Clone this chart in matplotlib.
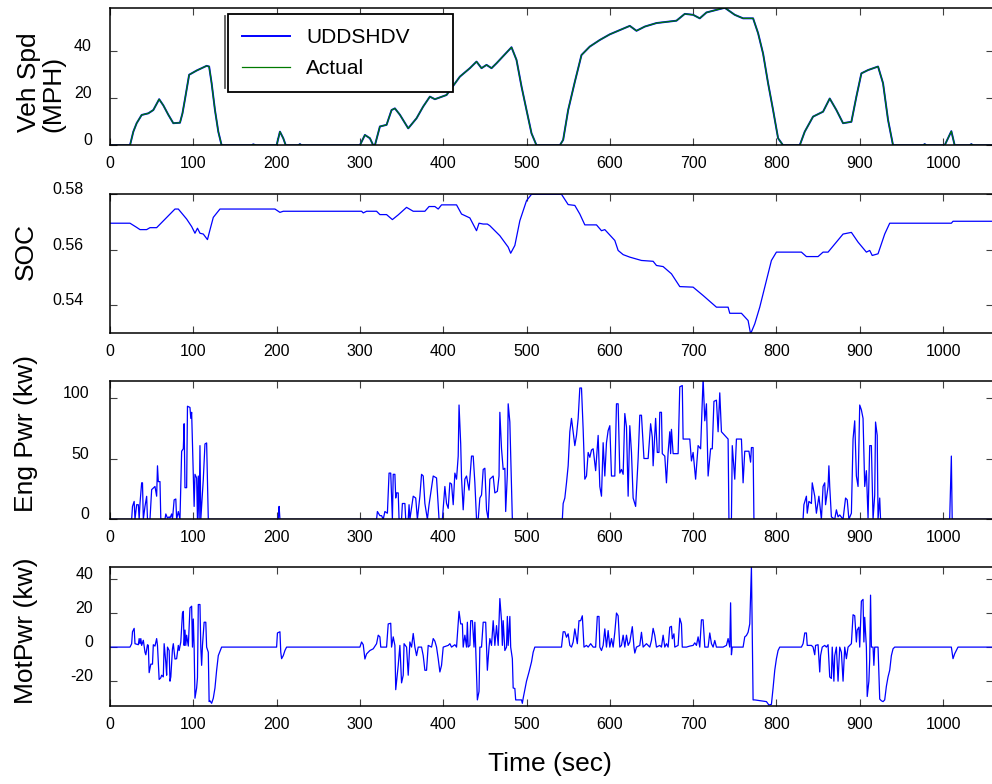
import matplotlib
matplotlib.use("Agg")
import matplotlib.pyplot as plt
from matplotlib.lines import Line2D

plt.rcParams['font.family'] = ['Liberation Sans', 'DejaVu Sans']
plt.rcParams['axes.unicode_minus'] = False

# ---- data (time in sec, value) ----
spd_pts = [(0, 0), (24, 0), (28, 5.8), (32, 9.4), (38, 12.9), (46, 13.6), (52, 15), (59, 19.6),
           (64, 17), (70, 13), (76, 9.4), (84, 9.6), (87, 13.6), (90, 19.6), (95, 30), (104, 31.8),
           (110, 32.8), (116, 33.8), (119, 33.5), (122, 26.4), (126, 15), (130, 5.8), (134, 0),
           (170, 0), (172, 0.4), (175, 0), (200, 0), (204, 5.8), (208, 3), (211, 0), (226, 0),
           (228, 0.5), (230, 0), (300, 0), (306, 4.4), (312, 3), (316, 0), (318, 0), (324, 8),
           (332, 8.7), (338, 15), (342, 15.7), (348, 13), (358, 7.2), (368, 11.5), (376, 16.5),
           (384, 20.7), (390, 19.6), (404, 21.4), (420, 29.2), (432, 32.8), (440, 35.6),
           (446, 32.8), (452, 34.2), (458, 32.8), (464, 34.9), (482, 41.7), (488, 36.3), (494, 25),
           (500, 15), (506, 5.1), (512, 0), (540, 0), (544, 2.3), (550, 15), (558, 27), (566, 38.4),
           (576, 42), (588, 44.8), (600, 47.2), (612, 49), (624, 50.8), (632, 48.7), (642, 50.5),
           (656, 52), (680, 53), (690, 55.9), (700, 55.5), (708, 54), (716, 56.5), (728, 57.6),
           (738, 58.5), (750, 55.5), (760, 54), (772, 54), (778, 47.7), (784, 39), (790, 26.4),
           (796, 15), (802, 3), (808, 0), (828, 0), (834, 5.8), (844, 12.2), (856, 14.3),
           (864, 19.9), (872, 15), (880, 9.4), (890, 10), (896, 20.7), (902, 30.6), (910, 32),
           (922, 33.5), (928, 26.4), (934, 10.8), (940, 0), (976, 0), (978, 0.5), (980, 0),
           (1002, 0), (1010, 6), (1014, 0), (1032, 0), (1034, 0.5), (1036, 0), (1060, 0)]

soc_pts = [(0, 0.5696), (24, 0.5696), (32, 0.5681), (36, 0.5673), (44, 0.5673), (48, 0.568),
           (56, 0.568), (78, 0.5747), (82, 0.5747), (92, 0.5711), (98, 0.5684), (102, 0.566),
           (105, 0.5678), (108, 0.566), (112, 0.5657), (117, 0.5637), (120, 0.5672), (124, 0.5717),
           (132, 0.5747), (198, 0.5747), (204, 0.5735), (208, 0.5739), (302, 0.5739), (304, 0.5733),
           (308, 0.5739), (320, 0.5739), (324, 0.5727), (332, 0.5727), (339, 0.5709), (346, 0.5726),
           (356, 0.5753), (364, 0.5739), (378, 0.5739), (383, 0.5756), (390, 0.5756), (394, 0.5747),
           (398, 0.5762), (416, 0.5762), (422, 0.5729), (432, 0.5715), (440, 0.5669), (443, 0.5696),
           (448, 0.5693), (453, 0.5693), (456, 0.5687), (468, 0.5651), (478, 0.561), (481, 0.5588),
           (486, 0.5616), (492, 0.5705), (500, 0.5777), (506, 0.580), (542, 0.580), (550, 0.5763),
           (558, 0.576), (564, 0.5729), (570, 0.569), (584, 0.569), (590, 0.5669), (594, 0.5673),
           (606, 0.5634), (610, 0.5598), (616, 0.5583), (624, 0.5574), (638, 0.5562), (652, 0.5559),
           (656, 0.5544), (664, 0.554), (674, 0.5514), (684, 0.5468), (700, 0.5466), (712, 0.5436),
           (728, 0.5394), (742, 0.5394), (744, 0.5372), (758, 0.5372), (766, 0.5346), (769, 0.5298),
           (774, 0.5334), (780, 0.5394), (788, 0.549), (794, 0.5562), (800, 0.5592), (830, 0.5592),
           (836, 0.5576), (850, 0.5576), (856, 0.5592), (862, 0.5592), (880, 0.5657), (890, 0.5663),
           (898, 0.5628), (908, 0.5592), (912, 0.5598), (915, 0.558), (922, 0.5586), (930, 0.5657),
           (936, 0.5696), (1010, 0.5696), (1012, 0.5703), (1060, 0.5703)]

eng_pts = [(0, 0), (26, 0), (27, 10.6), (29, 14.7), (30, 0), (32, 12), (34, 12), (35, 0), (36, 13),
           (38, 30), (39, 30), (40, 0), (42, 10.6), (44, 18.9), (45, 0), (48, 0), (50, 24.4),
           (54, 27), (56, 19), (57, 44), (58, 31), (60, 31), (61, 0), (66, 0), (67, 4.4), (69, 1),
           (71, 2), (72, 1), (74, 4.4), (75, 0), (77, 16), (79, 16.7), (80, 0), (82, 6.4), (84, 0),
           (86, 56), (88, 58), (89, 78.6), (90, 26), (92, 26), (93, 93), (96, 92), (97, 83), (98, 88),
           (100, 35.6), (101, 10.6), (102, 37), (104, 34), (105, 0), (106, 35.6), (107, 0),
           (108, 60.6), (109, 0), (112, 32.8), (114, 62), (116, 62.8), (118, 0), (202, 0),
           (202.5, 6.4), (203, 10.6), (204, 0), (320, 0), (321, 6.4), (324, 3), (326, 3), (328, 0),
           (330, 6.4), (333, 5), (335, 38), (337, 38), (339, 0), (340, 37), (342, 37), (343, 17.5),
           (344, 21.7), (346, 21.7), (347, 0), (350, 0), (351, 13), (354, 13), (355, 0), (358, 0),
           (359, 12), (360, 0), (364, 19), (367, 17.5), (369, 0), (372, 19), (374, 37), (376, 35.6),
           (378, 13), (381, 0), (383, 12), (388, 35.6), (392, 34), (395, 0), (399, 0), (402, 27),
           (404, 13), (406, 9), (408, 30), (410, 29), (412, 12), (414, 38), (416, 33), (418, 52),
           (419, 94), (421, 62), (422, 34), (424, 7.8), (426, 33), (428, 35.6), (431, 24), (434, 52),
           (436, 52), (438, 30), (440, 0), (442, 0), (444, 17.5), (446, 20), (448, 41), (450, 42),
           (452, 7.8), (454, 0), (456, 33), (460, 35.6), (462, 21.7), (465, 23), (467, 35.6),
           (468, 88), (470, 58), (472, 41), (474, 42), (475, 6.4), (477, 37), (478, 95), (480, 80),
           (483, 0), (543, 0), (544, 13), (546, 17.5), (548, 30), (550, 44), (552, 72), (554, 83),
           (556, 72), (558, 60.6), (560, 69), (562, 83), (564, 108), (566, 108), (568, 74), (570, 33),
           (572, 35.6), (574, 55), (576, 51), (578, 57), (580, 58), (583, 40), (586, 69), (588, 27),
           (590, 19), (592, 63), (594, 35.6), (596, 63), (598, 73), (600, 77), (602, 35.6),
           (606, 35.6), (608, 95), (610, 95), (612, 38), (614, 41), (616, 37), (618, 87), (620, 76),
           (622, 19), (624, 77), (626, 55), (628, 17.5), (631, 10.6), (634, 50), (636, 85.6),
           (638, 85.6), (641, 50), (646, 50), (649, 78.6), (651, 67.5), (652, 44), (655, 83),
           (657, 55), (659, 55), (660, 88), (662, 88), (663, 54), (666, 52), (668, 30), (670, 55),
           (672, 72), (673, 54), (674, 74), (676, 54), (682, 54), (684, 109), (687, 110), (688, 66),
           (696, 66), (698, 48), (700, 55), (703, 33), (706, 60.6), (709, 58), (712, 116), (714, 81),
           (716, 95), (718, 35.6), (721, 58), (723, 58), (725, 97), (728, 98), (730, 72), (732, 104),
           (734, 72), (738, 69), (742, 66), (743, 0), (746, 0), (747, 60.6), (750, 33), (752, 66),
           (758, 66), (760, 30), (762, 56), (767, 56), (769, 47), (770, 59), (772, 59), (773, 0),
           (832, 0), (833, 12), (836, 19), (837, 5), (839, 14.7), (842, 13), (843, 30), (846, 19),
           (848, 5), (851, 19), (854, 0), (856, 27), (858, 30), (859, 12), (862, 27), (863, 44),
           (864, 27), (866, 2), (870, 0), (872, 7.8), (874, 2), (876, 3.6), (880, 0), (883, 17.5),
           (885, 16), (887, 0), (890, 5), (892, 66), (894, 81), (896, 35.6), (898, 27), (900, 94),
           (902, 90), (904, 83), (906, 27), (908, 40), (910, 1), (912, 60.6), (914, 60.6), (916, 0),
           (918, 20), (919, 80), (921, 69), (922, 0), (924, 17.5), (925, 0), (1008, 0), (1010, 52),
           (1011, 0), (1060, 0)]

mot_pts = [(0, 0), (24, 0), (26, 2), (27, 9), (29, 11), (30, 2), (34, 1.4), (35, 5), (36, 2), (37, 5),
           (38, 1), (40, 4), (42, -3), (43, -4.5), (45, 1.4), (46, 1), (47, -15), (49, -10), (51, -10),
           (52, 1.4), (54, 0.6), (56, 5), (57, 1), (59, -19), (61, -18), (62, -16.5), (64, -17.5),
           (65, 2), (67, -9), (68, -16.5), (69, 0), (71, -2), (72, -20), (73, -17.5), (75, -1), (76, 2),
           (78, -7), (80, -6.8), (82, 1), (83, -2), (85, 3), (87, 20), (88, 21), (89, 1), (90, 10),
           (91, 1), (92, 7), (94, 0.6), (96, 23), (98, 24), (99, 0), (100, 16.5), (101, 0), (102, -30),
           (104, -24), (105, -18), (106, 25), (108, 25), (109, 0), (110, -10.7), (111, 1), (113, 14.6),
           (115, 14.6), (116, 0), (118, -3), (119, -32), (120, -31.5), (122, -33), (124, -30),
           (126, -24), (128, -13.6), (130, -5), (134, 0), (200, 0), (201, 8.3), (204, 9), (205, -3),
           (206, -6.8), (208, -5), (210, -2), (212, 0), (300, 0), (302, 3), (304, 1.4), (306, -7),
           (308, -4), (312, -2), (316, -1), (320, 2), (322, 7), (324, 6), (325, 0), (332, 0),
           (334, 13.6), (337, 14), (338, 0), (340, 6), (342, 1), (343, -25), (346, -10.7), (348, 1),
           (350, -21), (352, -16.5), (353, 2), (356, 0), (358, -16.5), (360, 3), (362, 0), (364, 8),
           (366, 0), (368, -5), (370, 0), (374, 0), (376, -5), (378, -13.6), (380, -13.6), (382, 1),
           (386, 0), (388, 5), (390, 3.5), (392, 0), (394, -6.8), (396, -14.6), (398, -10.7), (400, 0),
           (406, 1), (408, 2), (410, 0), (414, 1.4), (416, 0), (419, 21), (421, 13.6), (423, 13.6),
           (424, 0), (426, 7), (428, 0), (429, 14.6), (430, 0), (432, 1), (433, 15.5), (435, 15.5),
           (437, 0), (438, 14.6), (439, 0), (441, -31), (443, -26), (444, 0), (446, 0), (448, 14.6),
           (451, 14.6), (453, -13.6), (455, 0), (456, 5), (458, 1), (460, 15.5), (462, 1), (464, 12.6),
           (466, 1), (468, 28.5), (470, 15.5), (471, 1), (472, 15.5), (474, -2), (476, 0), (477, 18),
           (478, 1), (480, 18), (481, 0), (483, -6.8), (484, -24), (486, -24.3), (487, -31), (494, -31),
           (495, -33), (496, -30), (498, -25), (500, -20), (503, -14.6), (506, -8.7), (508, -3),
           (510, 0), (542, 0), (544, 9), (546, 9), (548, 5.8), (550, 7.8), (552, 1), (554, 0), (556, 3),
           (558, 10.7), (561, 2), (563, 15.5), (565, 15.5), (567, 18.4), (569, 0), (572, 1), (574, 0),
           (577, 2), (580, 0), (583, 0), (585, 18), (587, 18), (588, 0), (590, -2), (592, 1),
           (594, 10.7), (596, 0), (598, 9.7), (600, 0), (602, 5), (604, 0), (606, 8.7), (608, 20),
           (610, 18.4), (612, 0), (614, 1), (616, 7), (618, 0), (620, 7), (622, 1), (624, 3), (627, 12),
           (629, 0), (630, -3.5), (632, 0), (636, 1), (638, 8.7), (640, 0), (642, 1), (644, 2), (648, 0),
           (650, 3.9), (652, 11), (654, 6.8), (656, 0), (660, 1), (662, 0), (664, 7), (666, 0), (668, 2),
           (670, 0), (672, 11.7), (674, 12.2), (675, 4.9), (677, 7.8), (678, 0), (682, 1), (684, 17),
           (686, 13.6), (687, 0), (692, 0), (696, 0.6), (700, 1), (702, 2.5), (704, 1), (706, 6),
           (708, 0), (710, 16), (712, 16), (714, 0), (718, 0), (720, 8.3), (722, 2), (724, 0), (726, 3.9),
           (728, 0), (736, 0), (740, 1), (742, 5), (744, 0), (745, 26), (746, -4.5), (747, 0), (760, 0),
           (762, 6), (764, 6.8), (766, 8.7), (768, 13.6), (770, 47), (772, -31), (774, -31), (788, -32),
           (791, -34), (794, -33.6), (796, -24), (798, -13.6), (800, -6.8), (802, -2), (804, 0),
           (830, 0), (832, 2), (834, 8.3), (836, 8.3), (837, 1), (842, 1), (844, 0), (846, -4.5),
           (847, 1), (850, 1.4), (852, -14.6), (853, -5), (855, 0), (858, 1), (860, 0), (862, 1.4),
           (864, -17.5), (866, -18.4), (867, 0), (869, -20), (870, -5), (872, 0), (874, -20), (876, 0),
           (878, -3), (880, -20), (882, 0), (884, -6.8), (886, 0), (888, 1), (890, 2), (892, 19),
           (894, 18.4), (896, 3), (897, 10), (899, 11.7), (900, 0), (902, 27), (904, 28), (905, 3),
           (906, 17.5), (908, 0), (909, -29), (911, -20), (912, -7), (913, 30.5), (914, 0), (916, 0),
           (917, -10.7), (918, 0), (922, 0), (924, -30.5), (926, -31.5), (928, -32), (930, -31),
           (932, -23), (934, -17.5), (936, -13.6), (938, -5), (940, -1), (942, 0), (1010, 0),
           (1012, -6.8), (1014, -3.9), (1016, -2), (1018, 0), (1060, 0)]

x_ticks = [0, 100, 200, 300, 400, 500, 600, 700, 800, 900, 1000]
spd_ticks = [0, 20, 40]
soc_ticks = [0.54, 0.56, 0.58]
eng_ticks = [0, 50, 100]
mot_ticks = [-20, 0, 20, 40]

spd_t, spd_v = zip(*spd_pts)
soc_t, soc_v = zip(*soc_pts)
eng_t, eng_v = zip(*eng_pts)
mot_t, mot_v = zip(*mot_pts)

W, H = 992, 784
fig = plt.figure(figsize=(W / 100, H / 100), dpi=100)

def px_axes(top, bottom):
    # axes rectangle from pixel rows, left edge at 110 px, running off the right border
    return fig.add_axes([110 / W, 1 - bottom / H, 883 / W, (bottom - top) / H])

ax1 = px_axes(8, 145.3)
ax2 = px_axes(194.3, 333.3)
ax3 = px_axes(380.7, 519.3)
ax4 = px_axes(566.7, 705.7)

ax1.plot(spd_t, spd_v, color='#0000ff', lw=1.4, label='UDDSHDV')
ax1.plot(spd_t, spd_v, color='#007a00', lw=0.9, label='Actual')
ax1.set_ylim(0, 58.4)
ax1.set_yticks(spd_ticks)

ax2.plot(soc_t, soc_v, color='#0000ff', lw=0.9)
ax2.set_ylim(0.53, 0.58)
ax2.set_yticks(soc_ticks)
ax2.set_yticklabels(['0.54', '0.56', '0.58'])

ax3.plot(eng_t, eng_v, color='#0000ff', lw=0.9)
ax3.set_ylim(0, 114)
ax3.set_yticks(eng_ticks)

ax4.plot(mot_t, mot_v, color='#0000ff', lw=0.9)
ax4.set_ylim(-34.4, 47.2)
ax4.set_yticks(mot_ticks)

for ax, ypad in [(ax1, 13), (ax2, 19), (ax3, 15), (ax4, 12)]:
    ax.set_xlim(0, 1060)
    ax.set_xticks(x_ticks)
    ax.tick_params(direction='in', length=5, width=0.8, top=True, right=True,
                   labelsize=11.5, color='0.25')
    ax.tick_params(axis='x', pad=8)
    ax.tick_params(axis='y', pad=ypad)
    for s in ax.spines.values():
        s.set_linewidth(1.1)
    plt.setp(ax.get_yticklabels(), va='baseline')

leg = ax1.legend(loc='upper left', bbox_to_anchor=(0.134, 0.954, 0.2548, 0.0), mode='expand',
                 fontsize=15, frameon=True, fancybox=False, framealpha=1, edgecolor='black',
                 handlelength=2.3, handletextpad=0.8, labelspacing=0.6, borderpad=0.65,
                 borderaxespad=0.0)
leg.get_frame().set_linewidth(1.3)
# thin shadow line left of the legend box
fig.add_artist(Line2D([224.5 / W, 224.5 / W], [1 - 16 / H, 1 - 88 / H],
                      transform=fig.transFigure, color='0.35', lw=1.3))

lab = dict(fontsize=19, rotation=90, ha='center', va='center')
fig.text(41 / W, 1 - 82 / H, 'Veh Spd\n(MPH)', multialignment='left', linespacing=1.0, **lab)
fig.text(26 / W, 1 - 251 / H, 'SOC', **lab)
fig.text(26 / W, 1 - 434 / H, 'Eng Pwr (kw)', **lab)
fig.text(26 / W, 1 - 631 / H, 'MotPwr (kw)', **lab)
fig.text(550 / W, 1 - 764 / H, 'Time (sec)', fontsize=19, ha='center', va='center')

fig.savefig('out.png', dpi=100)
